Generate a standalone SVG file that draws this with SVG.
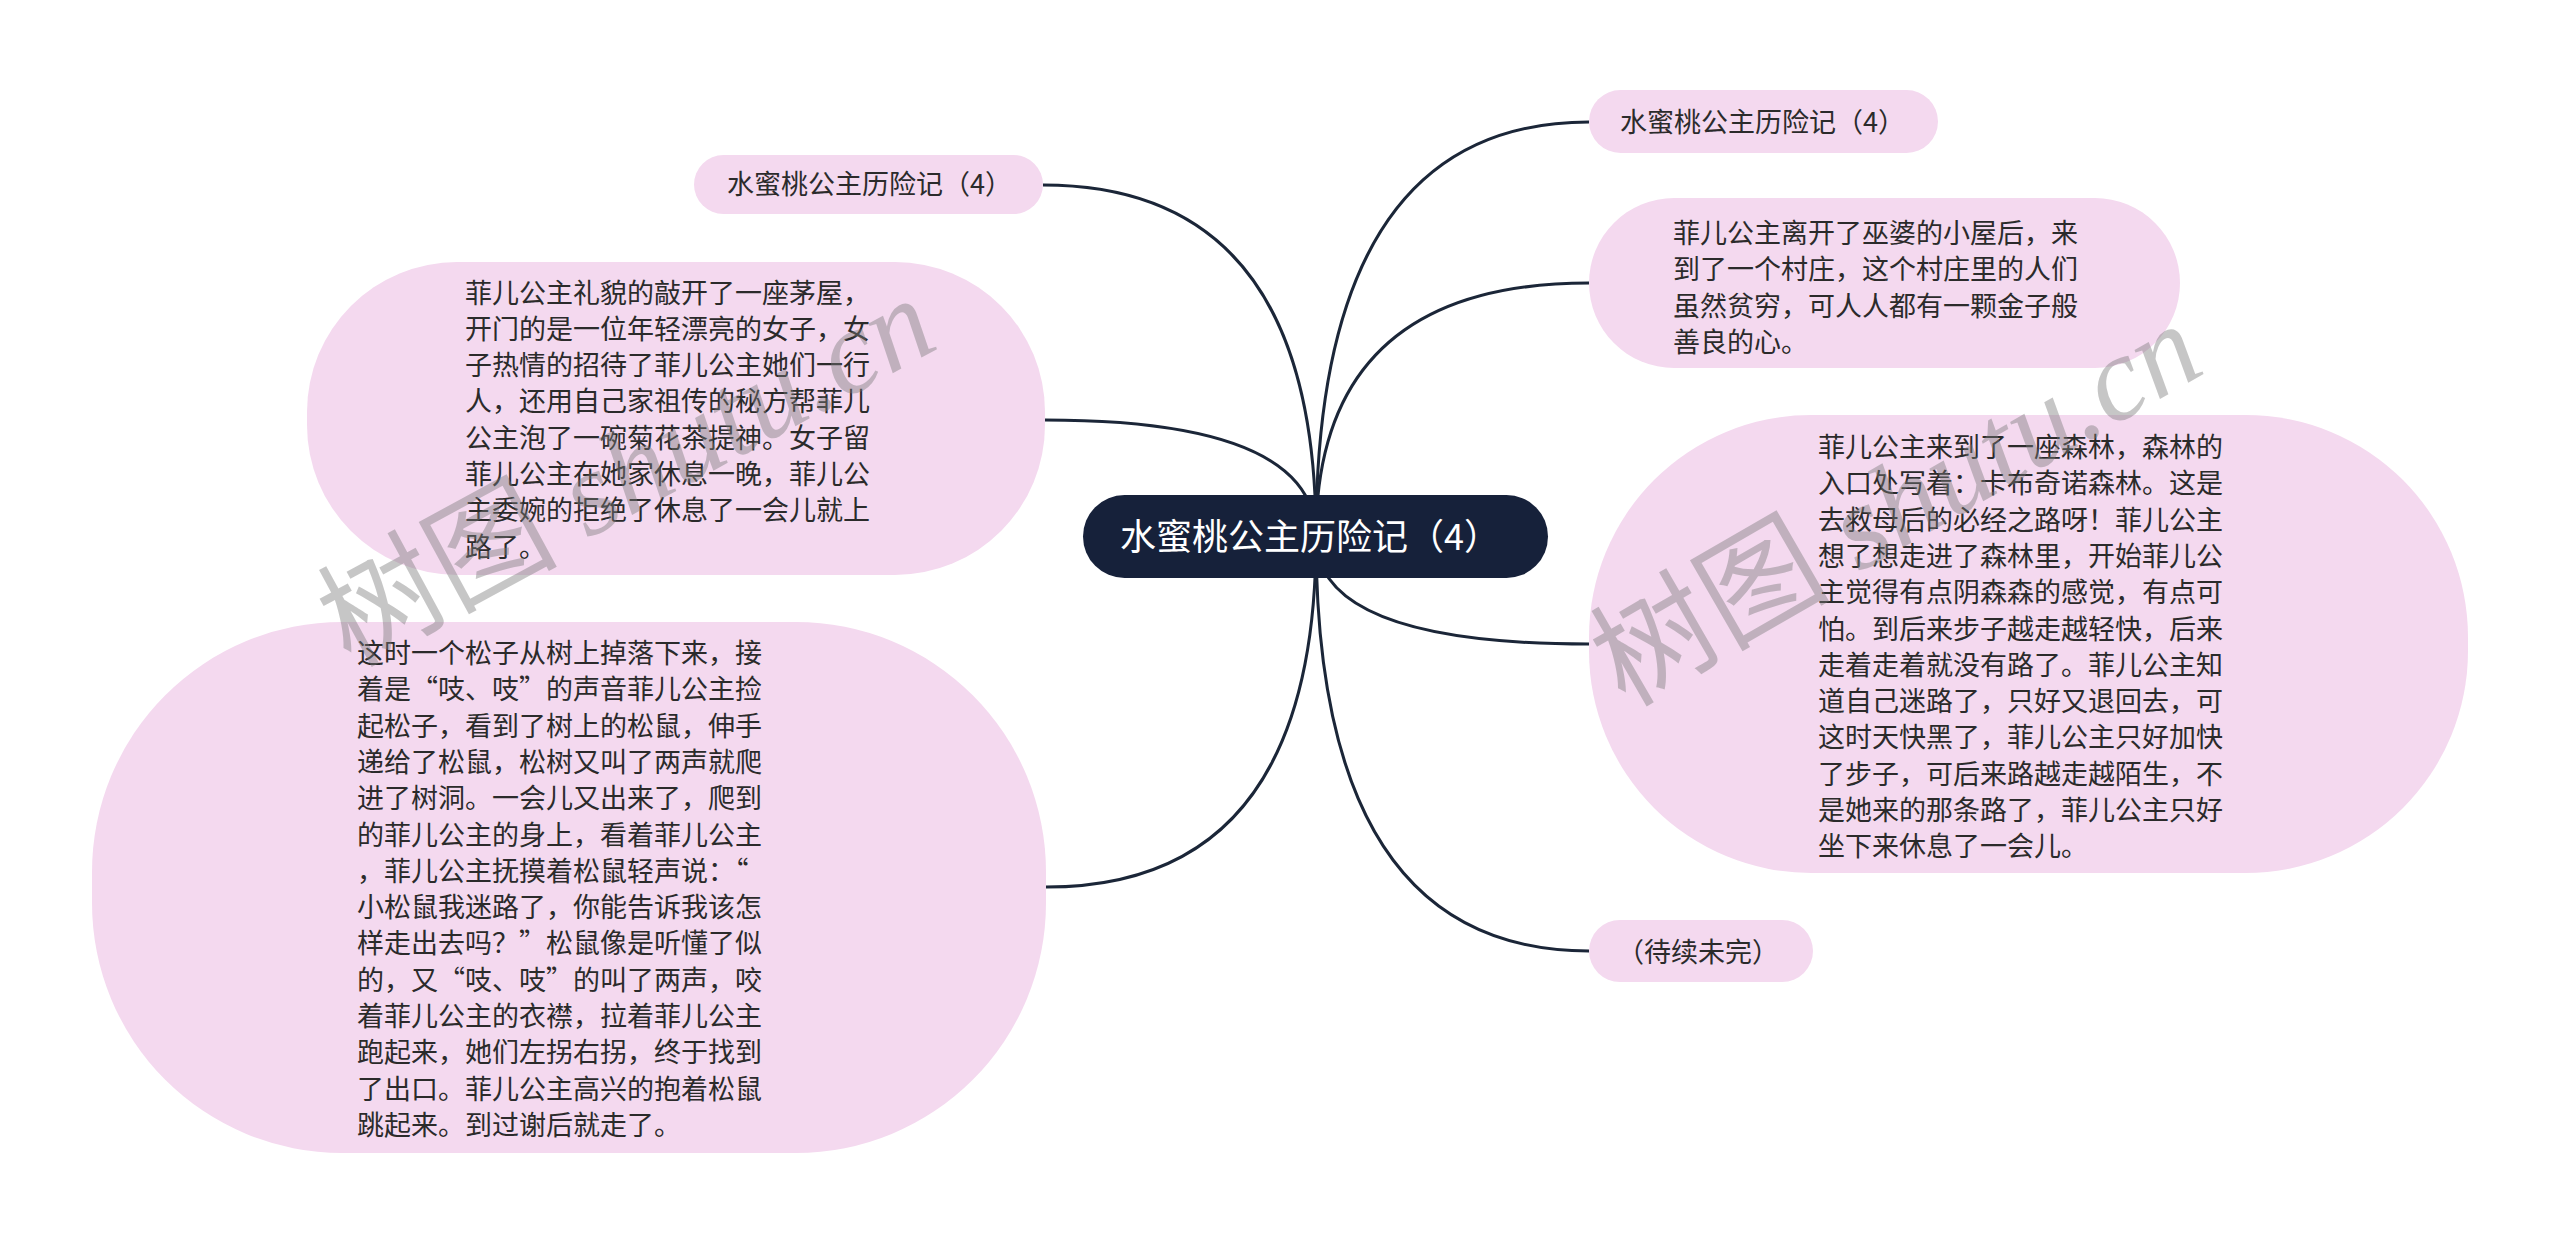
<svg xmlns="http://www.w3.org/2000/svg" width="2560" height="1245" viewBox="0 0 2560 1245">
<style>
.bg{fill:#ffffff}
.node{fill:#f4d9ef}
.root{fill:#16213a}
.t{font-family:"Noto Sans CJK SC","Noto Sans",sans-serif;font-size:27px;fill:#2b2b2b}
.rt{font-family:"Noto Sans CJK SC","Noto Sans",sans-serif;font-size:36px;fill:#ffffff}
.link{fill:none;stroke:#1b2638;stroke-width:3}
.wm{font-family:"Liberation Serif","Noto Sans CJK SC",serif;font-size:120px;fill:#7a7a7a;opacity:0.42}
</style>
<rect class="bg" x="0" y="0" width="2560" height="1245"/>
<g id="connectors">
<path class="link" d="M1316 537 Q1316 185 1043 185"/>
<path class="link" d="M1316 537 Q1316 420 1045 420"/>
<path class="link" d="M1316 537 Q1316 887 1046 887"/>
<path class="link" d="M1316 537 Q1316 122 1589 122"/>
<path class="link" d="M1316 537 Q1316 283 1589 283"/>
<path class="link" d="M1316 537 Q1316 644 1589 644"/>
<path class="link" d="M1316 537 Q1316 951 1589 951"/>
</g>
<g id="root">
<rect class="root" x="1083" y="495" width="465" height="83" rx="41.5"/>
<text class="rt" x="1310" y="550" text-anchor="middle">水蜜桃公主历险记（4）</text>
</g>
<g id="node-tl">
<rect class="node" x="694" y="155" width="349" height="59" rx="29.5"/>
<text class="t" x="727" y="194">水蜜桃公主历险记（4）</text>
</g>
<g id="node-l2">
<rect class="node" x="307" y="262" width="738" height="313" rx="150"/>
<text class="t" x="465" y="302.5">
<tspan x="465">菲儿公主礼貌的敲开了一座茅屋，</tspan>
<tspan x="465" dy="36.3">开门的是一位年轻漂亮的女子，女</tspan>
<tspan x="465" dy="36.3">子热情的招待了菲儿公主她们一行</tspan>
<tspan x="465" dy="36.3">人，还用自己家祖传的秘方帮菲儿</tspan>
<tspan x="465" dy="36.3">公主泡了一碗菊花茶提神。女子留</tspan>
<tspan x="465" dy="36.3">菲儿公主在她家休息一晚，菲儿公</tspan>
<tspan x="465" dy="36.3">主委婉的拒绝了休息了一会儿就上</tspan>
<tspan x="465" dy="36.3">路了。</tspan>
</text>
</g>
<g id="node-l3">
<rect class="node" x="92" y="622" width="954" height="531" rx="250"/>
<text class="t" x="357" y="663">
<tspan x="357">这时一个松子从树上掉落下来，接</tspan>
<tspan x="357" dy="36.3">着是“吱、吱”的声音菲儿公主捡</tspan>
<tspan x="357" dy="36.3">起松子，看到了树上的松鼠，伸手</tspan>
<tspan x="357" dy="36.3">递给了松鼠，松树又叫了两声就爬</tspan>
<tspan x="357" dy="36.3">进了树洞。一会儿又出来了，爬到</tspan>
<tspan x="357" dy="36.3">的菲儿公主的身上，看着菲儿公主</tspan>
<tspan x="357" dy="36.3">，菲儿公主抚摸着松鼠轻声说：“</tspan>
<tspan x="357" dy="36.3">小松鼠我迷路了，你能告诉我该怎</tspan>
<tspan x="357" dy="36.3">样走出去吗？”松鼠像是听懂了似</tspan>
<tspan x="357" dy="36.3">的，又“吱、吱”的叫了两声，咬</tspan>
<tspan x="357" dy="36.3">着菲儿公主的衣襟，拉着菲儿公主</tspan>
<tspan x="357" dy="36.3">跑起来，她们左拐右拐，终于找到</tspan>
<tspan x="357" dy="36.3">了出口。菲儿公主高兴的抱着松鼠</tspan>
<tspan x="357" dy="36.3">跳起来。到过谢后就走了。</tspan>
</text>
</g>
<g id="node-r1">
<rect class="node" x="1589" y="90" width="349" height="63" rx="31.5"/>
<text class="t" x="1620" y="132">水蜜桃公主历险记（4）</text>
</g>
<g id="node-r2">
<rect class="node" x="1589" y="198" width="591" height="170" rx="85"/>
<text class="t" x="1673" y="243">
<tspan x="1673">菲儿公主离开了巫婆的小屋后，来</tspan>
<tspan x="1673" dy="36.3">到了一个村庄，这个村庄里的人们</tspan>
<tspan x="1673" dy="36.3">虽然贫穷，可人人都有一颗金子般</tspan>
<tspan x="1673" dy="36.3">善良的心。</tspan>
</text>
</g>
<g id="node-r3">
<rect class="node" x="1589" y="415" width="879" height="458" rx="222"/>
<text class="t" x="1818" y="457">
<tspan x="1818">菲儿公主来到了一座森林，森林的</tspan>
<tspan x="1818" dy="36.3">入口处写着：卡布奇诺森林。这是</tspan>
<tspan x="1818" dy="36.3">去救母后的必经之路呀！菲儿公主</tspan>
<tspan x="1818" dy="36.3">想了想走进了森林里，开始菲儿公</tspan>
<tspan x="1818" dy="36.3">主觉得有点阴森森的感觉，有点可</tspan>
<tspan x="1818" dy="36.3">怕。到后来步子越走越轻快，后来</tspan>
<tspan x="1818" dy="36.3">走着走着就没有路了。菲儿公主知</tspan>
<tspan x="1818" dy="36.3">道自己迷路了，只好又退回去，可</tspan>
<tspan x="1818" dy="36.3">这时天快黑了，菲儿公主只好加快</tspan>
<tspan x="1818" dy="36.3">了步子，可后来路越走越陌生，不</tspan>
<tspan x="1818" dy="36.3">是她来的那条路了，菲儿公主只好</tspan>
<tspan x="1818" dy="36.3">坐下来休息了一会儿。</tspan>
</text>
</g>
<g id="node-r4">
<rect class="node" x="1589" y="920" width="224" height="62" rx="31"/>
<text class="t" x="1617" y="962">（待续未完）</text>
</g>
<g id="watermarks">
<text class="wm" transform="translate(350 668) rotate(-28.5)">树图 <tspan font-style="italic">shutu.cn</tspan></text>
<text class="wm" transform="translate(1625 708) rotate(-30)">树图 <tspan font-style="italic">shutu.cn</tspan></text>
</g>
</svg>
